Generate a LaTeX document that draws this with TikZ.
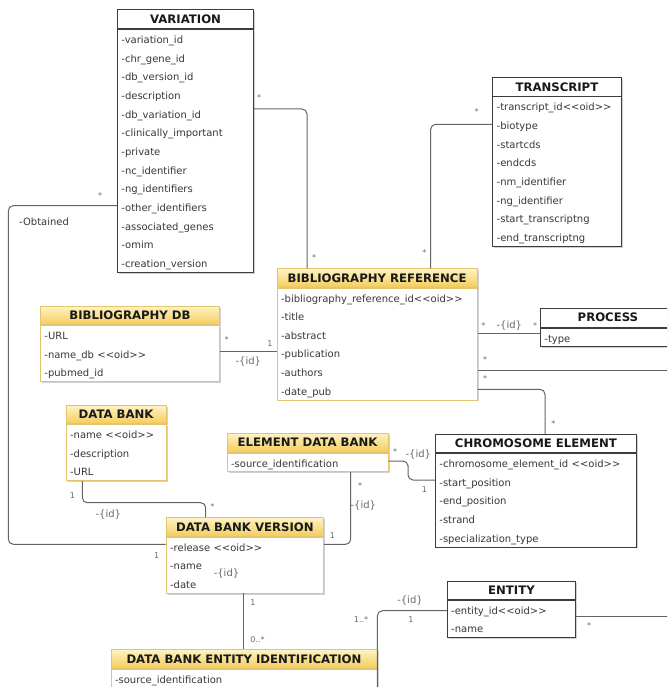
\documentclass[tikz,border=0pt]{standalone}
\usepackage{fontspec}
\setmainfont{DejaVu Sans}
\usepackage{tikz}
\usetikzlibrary{
  positioning,
  shadows
}
\definecolor{clsborder}{RGB}{60,60,60}
\definecolor{ylwborder}{RGB}{228,196,110}
\definecolor{ylwtop}{RGB}{255,243,196}
\definecolor{ylwbot}{RGB}{243,204,92}
\definecolor{rowtext}{RGB}{55,55,55}
\definecolor{linkcolor}{RGB}{100,100,100}
\definecolor{labelcolor}{RGB}{105,105,105}
\newcommand{\rowtop}{\rule{0pt}{14.1pt}}
\newcommand{\rowbot}{\rule[-4.7pt]{0pt}{4.7pt}}
\newcommand{\oid}{<{}<oid>{}>}
\tikzset{
  clshead/.style={
    draw=clsborder, fill=white, line width=0.8pt, anchor=north west,
    minimum height=18.6pt, inner sep=0pt,
    font=\fontsize{11.7}{13}\selectfont\bfseries, text=black!90,
    drop shadow={shadow xshift=1.5pt, shadow yshift=-1.5pt, fill=black!40, opacity=0.45}
  },
  ylwhead/.style={
    clshead, draw=ylwborder, top color=ylwtop, bottom color=ylwbot
  },
  clsbody/.style={
    draw=clsborder, fill=white, line width=0.8pt,
    inner xsep=4pt, inner ysep=0pt, align=left,
    font=\fontsize{10}{18.65}\selectfont, text=rowtext,
    execute at begin node=\rowtop, execute at end node=\rowbot,
    drop shadow={shadow xshift=1.5pt, shadow yshift=-1.5pt, fill=black!40, opacity=0.45}
  },
  ylwbody/.style={
    clsbody, draw=ylwborder
  },
  assoc/.style={
    draw=linkcolor, line width=1pt, rounded corners=5pt
  },
  mult/.style={
    font=\fontsize{8}{9}\selectfont, text=labelcolor, inner sep=1pt
  },
  role/.style={
    font=\fontsize{10}{12}\selectfont, text=labelcolor, inner sep=1pt
  }
}
\begin{document}
\begin{tikzpicture}[x=1pt, y=-1pt]
\useasboundingbox (0,0) rectangle (667,687);
\clip (0,0) rectangle (667,687);

\node[clshead, minimum width=136.3pt, minimum height=19pt] (varT) at (117,9.3) {VARIATION};
\node[clsbody, text width=128.3pt, below=0pt of varT] (var) {-variation\_id\\-chr\_gene\_id\\-db\_version\_id\\-description\\-db\_variation\_id\\-clinically\_important\\-private\\-nc\_identifier\\-ng\_identifiers\\-other\_identifiers\\-associated\_genes\\-omim\\-creation\_version};

\node[clshead, minimum width=128.4pt, minimum height=18.4pt] (transT) at (492.3,77.3) {TRANSCRIPT};
\node[clsbody, text width=120.4pt, below=0pt of transT] (trans) {-transcript\_id\oid\\-biotype\\-startcds\\-endcds\\-nm\_identifier\\-ng\_identifier\\-start\_transcriptng\\-end\_transcriptng};

\node[ylwhead, minimum width=200pt, minimum height=18.4pt] (bibT) at (276.7,268.3) {BIBLIOGRAPHY REFERENCE};
\node[ylwbody, text width=192pt, below=0pt of bibT] (bib) {-bibliography\_reference\_id\oid\\-title\\-abstract\\-publication\\-authors\\-date\_pub};

\node[ylwhead, minimum width=179.3pt] (bibdbT) at (40,305.7) {BIBLIOGRAPHY DB};
\node[ylwbody, text width=171.3pt, below=0pt of bibdbT] (bibdb) {-URL\\-name\_db \oid\\-pubmed\_id};

\node[clshead, minimum width=135pt, minimum height=19pt] (procT) at (540,307.7) {PROCESS};
\node[clsbody, text width=127pt, below=0pt of procT] (proc) {-type};

\node[ylwhead, minimum width=100pt, minimum height=18.3pt] (dbT) at (65.7,405) {DATA BANK};
\node[ylwbody, text width=92pt, below=0pt of dbT] (db) {-name \oid\\-description\\-URL};

\node[ylwhead, minimum width=161pt, minimum height=19pt] (edbT) at (226.7,432.7) {ELEMENT DATA BANK};
\node[ylwbody, text width=153pt, below=0pt of edbT] (edb) {-source\_identification};

\node[clshead, minimum width=201pt, minimum height=18.3pt] (chrT) at (435,434) {CHROMOSOME ELEMENT};
\node[clsbody, text width=193pt, below=0pt of chrT] (chr) {-chromosome\_element\_id \oid\\-start\_position\\-end\_position\\-strand\\-specialization\_type};

\node[ylwhead, minimum width=157.6pt, minimum height=18.4pt] (dbvT) at (165.7,517.3) {DATA BANK VERSION};
\node[ylwbody, text width=149.6pt, below=0pt of dbvT] (dbv) {-release \oid\\-name\\-date};

\node[clshead, minimum width=128.5pt, minimum height=18.3pt] (entT) at (446.8,580.7) {ENTITY};
\node[clsbody, text width=120.5pt, below=0pt of entT] (ent) {-entity\_id\oid\\-name};

\node[ylwhead, minimum width=266pt, minimum height=18.7pt] (dbeiT) at (110.6,649) {DATA BANK ENTITY IDENTIFICATION};
\node[ylwbody, text width=258pt, below=0pt of dbeiT] (dbei) {-source\_identification\\\mbox{}};

\coordinate (rim) at (672,0);

\draw[assoc] (var.east |- 0,109) -| (bibT.north -| 307,0);
\node[mult] (m1) at (259,98) {*};
\node[mult] (m2) at (314,258) {*};

\draw[assoc] (trans.west |- 0,124.3) -| (bibT.north -| 430.7,0);
\node[mult] (m3) at (476.7,111.7) {*};
\node[mult] (m4) at (424.3,252.3) {*};

\draw[assoc] (var.west |- 0,205.7) -| (8.3,400) |- (dbv.west |- 0,544.3);
\node[mult] (m5) at (100,196) {*};
\node[role, text=rowtext, anchor=west] (obt) at (18,221.7) {-Obtained};
\node[mult] (m6) at (156.7,555.7) {1};

\draw[assoc] (bibdb.east |- 0,351.7) -- (bib.west |- 0,351.7);
\node[mult] (m7) at (226.7,340) {*};
\node[mult] (m8) at (270,343.3) {1};
\node[role] (r1) at (248.3,361.7) {-\{id\}};

\draw[assoc] (bib.east |- 0,333.3) -- (proc.west |- 0,333.3);
\node[mult] (m9) at (483.3,325.7) {*};
\node[role] (r2) at (509.3,325.7) {-\{id\}};
\node[mult] (m10) at (535,325.7) {*};

\draw[assoc] (bib.east |- 0,370) -- (rim |- 0,370);
\node[mult] (m11) at (485,360) {*};

\draw[assoc] (bib.east |- 0,389.3) -| (chrT.north -| 545,0);
\node[mult] (m12) at (485,378.3) {*};
\node[mult] (m13) at (553.3,423.3) {*};

\draw[assoc] (db.south -| 82.3,0) |- (150,502.7) -| (dbvT.north -| 205.7,0);
\node[mult] (m14) at (72.3,496) {1};
\node[role] (r3) at (108.3,514.3) {-\{id\}};
\node[mult] (m15) at (212.3,506.7) {*};

\draw[assoc] (edb.south -| 350.7,0) |- (dbv.east |- 0,544.3);
\node[mult] (m16) at (360,486) {*};
\node[role] (r4) at (363.3,506) {-\{id\}};
\node[mult] (m17) at (332.3,536) {1};

\draw[assoc] (edb.east |- 0,461) -| (408,470) |- (chr.west |- 0,480);
\node[mult] (m18) at (395,451.7) {*};
\node[role] (r5) at (418.3,455) {-\{id\}};
\node[mult] (m19) at (424.3,489.3) {1};

\draw[assoc] (dbv.south -| 243.8,0) -- (dbeiT.north -| 243.8,0);
\node[mult] (m20) at (253,603) {1};
\node[mult] (m21) at (257.5,640) {0..*};
\node[role] (r6) at (226.5,574) {-\{id\}};

\draw[assoc] (ent.west |- 0,610.7) -| (dbei.south east);
\node[role] (r7) at (410,600.7) {-\{id\}};
\node[mult] (m22) at (361,620) {1..*};
\node[mult] (m23) at (411,620) {1};

\draw[assoc] (ent.east |- 0,616) -- (rim |- 0,616);
\node[mult] (m24) at (589,625.7) {*};
\end{tikzpicture}
\end{document}
